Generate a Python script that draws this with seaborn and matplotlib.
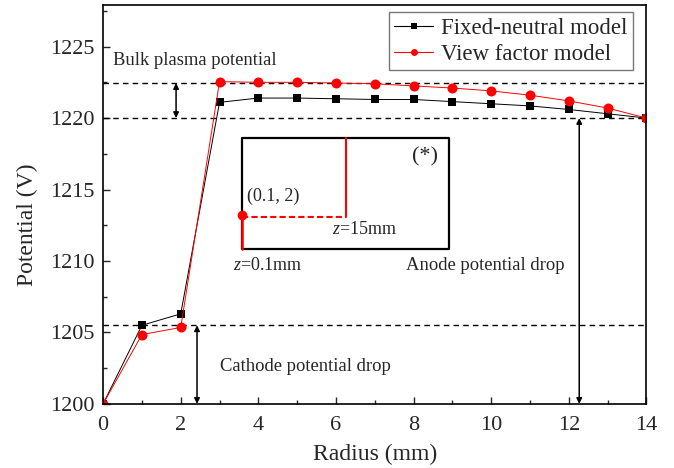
import numpy as np
import pandas as pd
import matplotlib
matplotlib.use("Agg")
import matplotlib.pyplot as plt
import seaborn as sns
from matplotlib.ticker import MultipleLocator

radius = [0, 1, 2, 3, 4, 5, 6, 7, 8, 9, 10, 11, 12, 13, 14]
fixed_neutral = [1200.0, 1205.5, 1206.3, 1221.1, 1221.4, 1221.4, 1221.35, 1221.3, 1221.3,
                 1221.15, 1221.0, 1220.85, 1220.6, 1220.3, 1220.0]
view_factor = [1200.0, 1204.85, 1205.35, 1222.55, 1222.5, 1222.5, 1222.45, 1222.4, 1222.25,
               1222.1, 1221.9, 1221.6, 1221.2, 1220.7, 1220.0]
series_names = ["Fixed-neutral model", "View factor model"]

bulk_level = 1222.45
anode_level = 1220.0
cathode_level = 1205.5

sns.set_style("ticks")
plt.rcParams['font.family'] = ['Liberation Serif', 'DejaVu Serif']
plt.rcParams['mathtext.fontset'] = 'custom'
plt.rcParams['mathtext.it'] = 'Liberation Serif:italic'
plt.rcParams['mathtext.rm'] = 'Liberation Serif'

df = pd.DataFrame({
    "Radius": radius * 2,
    "Potential": fixed_neutral + view_factor,
    "Model": [series_names[0]] * len(radius) + [series_names[1]] * len(radius),
})

fig, ax = plt.subplots(figsize=(6.74, 4.68), dpi=100)
fig.subplots_adjust(left=0.153, right=0.959, top=0.989, bottom=0.137)

sns.lineplot(data=df, x="Radius", y="Potential", hue="Model", style="Model",
             palette={series_names[0]: "black", series_names[1]: "red"},
             markers={series_names[0]: "s", series_names[1]: "o"},
             dashes=False, linewidth=0.7, markeredgewidth=0,
             ax=ax, legend=True)
for ln, ms in zip(ax.lines[:2], (6.3, 7.2)):
    ln.set_markersize(ms)

# reference dashed lines
for lvl in (bulk_level, anode_level, cathode_level):
    ax.axhline(lvl, color="black", linestyle=(0, (4, 3)), linewidth=1.0, zorder=1)

arrow_kw = dict(arrowstyle="<|-|>", color="black", lw=1.1, mutation_scale=8, shrinkA=0, shrinkB=0)
ax.annotate("", xy=(1.88, anode_level), xytext=(1.88, bulk_level), arrowprops=arrow_kw)
ax.annotate("", xy=(2.42, 1200.0), xytext=(2.42, cathode_level), arrowprops=arrow_kw)
ax.annotate("", xy=(12.27, 1200.0), xytext=(12.27, anode_level), arrowprops=arrow_kw)

ax.text(0.26, 1224.0, "Bulk plasma potential", fontsize=13.4, va="center", ha="left")
ax.text(3.0, 1202.6, "Cathode potential drop", fontsize=13.4, va="center", ha="left")
ax.text(7.8, 1209.7, "Anode potential drop", fontsize=13.4, va="center", ha="left")

# inset schematic
bx0, bx1, by0, by1 = 3.58, 8.92, 1210.85, 1218.6
ax.plot([bx0, bx1, bx1, bx0, bx0], [by0, by0, by1, by1, by0], color="black", lw=1.6, zorder=3)
ax.plot([bx0, bx0], [by0, 1213.2], color="red", lw=1.8, zorder=4)
ax.plot([bx0, 6.26], [1213.05, 1213.05], color="red", lw=1.5, linestyle=(0, (3, 1.5)), zorder=4)
ax.plot([6.26, 6.26], [1213.05, by1], color="red", lw=1.5, zorder=4)
ax.plot([bx0], [1213.2], marker="o", color="red", markersize=6, zorder=5)
ax.text(3.72, 1214.5, "(0.1, 2)", fontsize=13, va="center", ha="left")
ax.text(7.95, 1217.3, "(*)", fontsize=16, va="center", ha="left")
ax.text(5.9, 1212.2, "$z$=15mm", fontsize=13, va="center", ha="left")
ax.text(3.35, 1209.7, "$z$=0.1mm", fontsize=13, va="center", ha="left")

ax.set_xlim(0, 14)
ax.set_ylim(1200, 1227.9)
ax.xaxis.set_major_locator(MultipleLocator(2))
ax.xaxis.set_minor_locator(MultipleLocator(1))
ax.yaxis.set_major_locator(MultipleLocator(5))
ax.yaxis.set_minor_locator(MultipleLocator(2.5))
ax.tick_params(which="both", direction="in", top=False, right=False, labelsize=16)
ax.tick_params(which="major", length=5, width=1)
ax.tick_params(axis="y", which="major", pad=6)
ax.tick_params(axis="x", which="major", pad=9)
ax.tick_params(which="minor", length=3, width=1)
for s in ax.spines.values():
    s.set_visible(True)
    s.set_linewidth(1.2)
    s.set_color("black")

ax.set_xlabel("Radius (mm)", fontsize=17)
ax.set_ylabel("Potential (V)", fontsize=17)
ax.xaxis.set_label_coords(0.5, -0.1)
ax.yaxis.set_label_coords(-0.12, 0.45)

leg = ax.legend(loc="upper right", fontsize=16.5, frameon=True, fancybox=False,
                edgecolor="#555555", handlelength=1.7, borderpad=0.25, labelspacing=0.2,
                handletextpad=0.35, borderaxespad=0, bbox_to_anchor=(0.976, 0.982))
leg.get_frame().set_linewidth(1.0)
for h in leg.legend_handles:
    h.set_markersize(5)
    h.set_linewidth(0.8)

fig.savefig("out.png", dpi=100)
